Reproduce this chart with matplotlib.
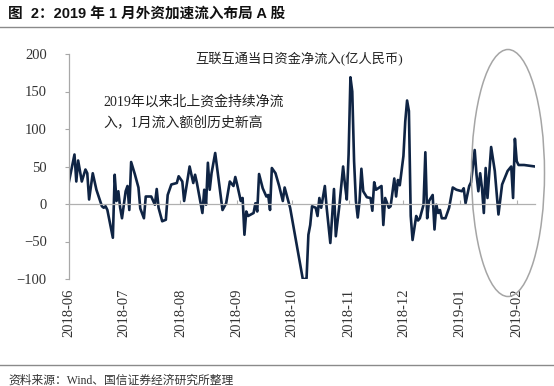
import pandas as pd
import matplotlib
matplotlib.use("Agg")
import matplotlib.pyplot as plt
import matplotlib.dates as mdates
from matplotlib.patches import Ellipse
from matplotlib.lines import Line2D

# 互联互通当日资金净流入(亿人民币)
dates = [
    "2018-06-01", "2018-06-04", "2018-06-05", "2018-06-06", "2018-06-08", "2018-06-10",
    "2018-06-11", "2018-06-12", "2018-06-14", "2018-06-16", "2018-06-19", "2018-06-20",
    "2018-06-21", "2018-06-22", "2018-06-25", "2018-06-26", "2018-06-27", "2018-06-28",
    "2018-06-29", "2018-06-30", "2018-07-02", "2018-07-03", "2018-07-04", "2018-07-05",
    "2018-07-07", "2018-07-09", "2018-07-10", "2018-07-12", "2018-07-13", "2018-07-16",
    "2018-07-18", "2018-07-19", "2018-07-20", "2018-07-22", "2018-07-24", "2018-07-25",
    "2018-07-27", "2018-07-30", "2018-07-31", "2018-08-02", "2018-08-03", "2018-08-06",
    "2018-08-08", "2018-08-09", "2018-08-10", "2018-08-13", "2018-08-14", "2018-08-15",
    "2018-08-16", "2018-08-17", "2018-08-18", "2018-08-20", "2018-08-22", "2018-08-24",
    "2018-08-26", "2018-08-28", "2018-08-30", "2018-08-31", "2018-09-01", "2018-09-03",
    "2018-09-04", "2018-09-05", "2018-09-06", "2018-09-07", "2018-09-10", "2018-09-11",
    "2018-09-12", "2018-09-13", "2018-09-15", "2018-09-17", "2018-09-18", "2018-09-19",
    "2018-09-20", "2018-09-22", "2018-09-24", "2018-09-26", "2018-09-27", "2018-09-30",
    "2018-10-07", "2018-10-09", "2018-10-10", "2018-10-11", "2018-10-12", "2018-10-14",
    "2018-10-15", "2018-10-16", "2018-10-17", "2018-10-19", "2018-10-20", "2018-10-22",
    "2018-10-24", "2018-10-25", "2018-10-27", "2018-10-29", "2018-10-30", "2018-10-31",
    "2018-11-01", "2018-11-02", "2018-11-03", "2018-11-04", "2018-11-05", "2018-11-06",
    "2018-11-07", "2018-11-08", "2018-11-09", "2018-11-11", "2018-11-13", "2018-11-14",
    "2018-11-15", "2018-11-16", "2018-11-19", "2018-11-20", "2018-11-21", "2018-11-23",
    "2018-11-24", "2018-11-26", "2018-11-27", "2018-11-28", "2018-11-29", "2018-12-01",
    "2018-12-02", "2018-12-03", "2018-12-04", "2018-12-05", "2018-12-06", "2018-12-08",
    "2018-12-09", "2018-12-10", "2018-12-12", "2018-12-13", "2018-12-14", "2018-12-15",
    "2018-12-17", "2018-12-18", "2018-12-19", "2018-12-20", "2018-12-21", "2018-12-22",
    "2018-12-24", "2018-12-26", "2018-12-28", "2018-12-30", "2019-01-02", "2019-01-03",
    "2019-01-04", "2019-01-06", "2019-01-07", "2019-01-09", "2019-01-10", "2019-01-11",
    "2019-01-12", "2019-01-13", "2019-01-14", "2019-01-15", "2019-01-16", "2019-01-18",
    "2019-01-20", "2019-01-22", "2019-01-24", "2019-01-27", "2019-01-29", "2019-01-30",
    "2019-01-31", "2019-02-01", "2019-02-02", "2019-02-05", "2019-02-11",
]
net_inflow = [
    30, 66, 30, 58, 30, 46,
    41, 6, 41, 19, -3, -5,
    -3, -8, -45, 39, 4, 17,
    -5, -19, 17, 24, -8, 56,
    40, 22, -6, -19, 10, 10,
    -1, 20, -5, -23, -21, 12,
    26, 28, 37, 30, 4, 50,
    28, 39, 28, -12, 19, -1,
    55, 19, 41, 68, 30, -8,
    1, 30, 24, 36, 26, 4,
    8, -41, -10, -16, -12, 1,
    -10, 40, 21, 10, 12, -8,
    48, 41, 24, 4, 22, -5,
    -101, -99, -41, -28, -3, -5,
    -16, 8, -5, 24, -5, -52,
    20, -43, -1, 50, 26, 6,
    66, 169, 150, 57, 4, -18,
    4, 47, 17, 9, 8, -9,
    29, 19, 24, -28, 8, -5,
    -3, 34, 10, 32, 25, 64,
    110, 138, 124, -16, -48, -16,
    -22, -19, -1, 69, -19, 4,
    12, -34, -1, -12, -8, -19,
    -19, -5, 22, 19, 17, 21,
    1, 24, 29, 72, 39, 17,
    41, 21, -12, 48, 8, 76,
    44, -14, 26, 44, 50, 8,
    87, 57, 52, 52, 50,
]
month_ticks = ["2018-06-01", "2018-07-01", "2018-08-01", "2018-09-01", "2018-10-01",
               "2018-11-01", "2018-12-01", "2019-01-01", "2019-02-01"]
y_ticks = [-100, -50, 0, 50, 100, 150, 200]

title = "图  2：2019 年 1 月外资加速流入布局 A 股"
series_label = "互联互通当日资金净流入(亿人民币)"
note = "2019年以来北上资金持续净流\n入，1月流入额创历史新高"
source = "资料来源：Wind、国信证券经济研究所整理"

serif_cjk = ["Liberation Serif", "Noto Sans CJK SC"]
sans_cjk = ["Liberation Sans", "Noto Sans CJK SC"]

x = pd.to_datetime(dates)
ticks = pd.to_datetime(month_ticks)

W, H = 554, 386
fig = plt.figure(figsize=(W / 100, H / 100), dpi=100)
ax = fig.add_axes([69 / W, 1 - 279 / H, (535 - 69) / W, (279 - 54) / H])

ax.plot(x, net_inflow, color="#0f2444", lw=1.9, solid_joinstyle="round")
ax.set_xlim(x[0], x[-1])
ax.set_ylim(-100, 200)

# y axis
for s in ["top", "right"]:
    ax.spines[s].set_visible(False)
ax.spines["left"].set_color("#a8a8a8")
ax.spines["left"].set_linewidth(0.9)
ax.set_yticks(y_ticks)
ax.tick_params(axis="y", direction="out", length=3, width=0.8, color="#a8a8a8",
               pad=13, labelsize=10.5, labelcolor="#333333")
for lab in ax.get_yticklabels():
    lab.set_family("Liberation Serif")

# zero line carries the month ticks, labels sit below the plot
ax.spines["bottom"].set_position(("data", 0))
ax.spines["bottom"].set_color("#b0b0b0")
ax.spines["bottom"].set_linewidth(0.9)
ax.set_xticks(ticks)
ax.tick_params(axis="x", direction="in", length=3, width=0.8, color="#b0b0b0",
               labelbottom=False)

sec = ax.secondary_xaxis("bottom")
sec.spines["bottom"].set_visible(False)
sec.set_xticks(ticks)
sec.xaxis.set_major_formatter(mdates.DateFormatter("%Y-%m"))
sec.tick_params(axis="x", length=0, pad=7, labelsize=10.5, labelcolor="#333333",
                labelrotation=90)
for lab in sec.get_xticklabels():
    lab.set_family("Liberation Serif")

# texts
fig.text(8 / W, 1 - 14 / H, title, family=sans_cjk, fontsize=10.5, fontweight="bold",
         color="#111111", va="center", ha="left")
fig.text(195 / W, 1 - 59 / H, series_label, family=serif_cjk, fontsize=9.5,
         color="#222222", va="center", ha="left")
fig.text(103 / W, 1 - 95 / H, note, family=serif_cjk, fontsize=10, color="#222222",
         va="top", ha="left", linespacing=1.6)
fig.text(8 / W, 1 - 381 / H, source, family=serif_cjk, fontsize=8.5, color="#333333",
         va="center", ha="left")

# separator lines and highlight ellipse
fig.add_artist(Line2D([0, 1], [1 - 26.5 / H] * 2, transform=fig.transFigure,
                      color="#8a8a8a", lw=1))
fig.add_artist(Line2D([0, 1], [1 - 365 / H] * 2, transform=fig.transFigure,
                      color="#8a8a8a", lw=1))
fig.add_artist(Ellipse((508 / W, 1 - 173 / H), 73 / W, 247 / H, transform=fig.transFigure,
                       fill=False, ec="#a5a5a5", lw=1.1))

fig.savefig("out.png", dpi=100)
